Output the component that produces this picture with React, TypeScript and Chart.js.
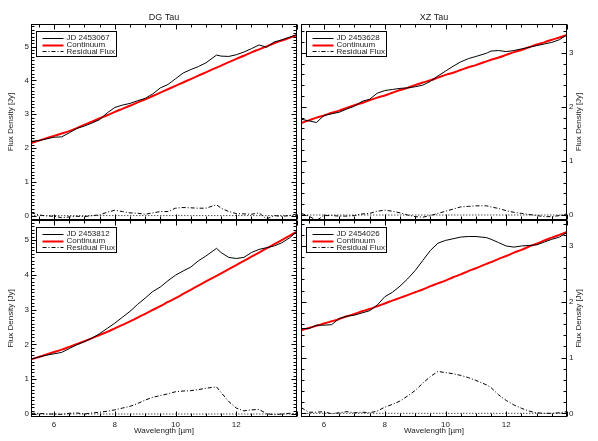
import React, { useEffect, useRef } from "react";
import { Chart, registerables } from "chart.js";
Chart.register(...registerables);

// ---------------- DATA ----------------
const WAVELENGTH = [5.25, 5.5, 5.75, 6.0, 6.25, 6.5, 6.75, 7.0, 7.25, 7.5, 7.75, 8.0, 8.25, 8.5, 8.75, 9.0, 9.25, 9.5, 9.75, 10.0, 10.25, 10.5, 10.75, 11.0, 11.35, 11.5, 11.75, 12.0, 12.25, 12.5, 12.75, 13.0, 13.25, 13.5, 13.75, 14.0];

const X_TICKS = [6, 8, 10, 12];
const DG_Y_TICKS = [0, 1, 2, 3, 4, 5];
const XZ_Y_TICKS = [0, 1, 2, 3];

const LEGEND_LABELS = ["Continuum", "Residual Flux"];
const PANEL_TITLES = ["DG Tau", "XZ Tau"];
const EPOCHS = ["JD 2453067", "JD 2453628", "JD 2453812", "JD 2454026"];

// DG Tau, JD 2453067
const DG1_OBS = [2.20, 2.22, 2.27, 2.32, 2.33, 2.45, 2.58, 2.65, 2.74, 2.84, 3.04, 3.20, 3.27, 3.32, 3.40, 3.47, 3.60, 3.78, 3.88, 4.05, 4.22, 4.32, 4.41, 4.52, 4.75, 4.72, 4.71, 4.76, 4.84, 4.94, 5.05, 4.98, 5.14, 5.20, 5.28, 5.36];
const DG1_CONT = [2.15, 2.22, 2.29, 2.36, 2.43, 2.50, 2.59, 2.69, 2.78, 2.88, 2.97, 3.07, 3.16, 3.25, 3.35, 3.44, 3.54, 3.64, 3.74, 3.84, 3.94, 4.04, 4.14, 4.24, 4.38, 4.44, 4.54, 4.64, 4.73, 4.83, 4.92, 5.01, 5.10, 5.18, 5.26, 5.34];
const DG1_RES = [0.08, 0.02, -0.01, -0.02, -0.06, -0.04, -0.02, -0.03, 0.00, 0.02, 0.10, 0.16, 0.12, 0.08, 0.07, 0.04, 0.08, 0.12, 0.12, 0.22, 0.24, 0.23, 0.22, 0.22, 0.32, 0.22, 0.12, 0.06, 0.05, 0.04, 0.08, -0.10, 0.00, -0.02, 0.00, 0.05];

// XZ Tau, JD 2453628
const XZ1_OBS = [1.77, 1.74, 1.71, 1.84, 1.87, 1.90, 1.96, 2.01, 2.10, 2.14, 2.25, 2.30, 2.32, 2.34, 2.35, 2.37, 2.40, 2.47, 2.57, 2.66, 2.75, 2.83, 2.89, 2.93, 2.99, 3.03, 3.04, 3.02, 3.04, 3.07, 3.10, 3.13, 3.16, 3.19, 3.24, 3.33];
const XZ1_CONT = [1.70, 1.75, 1.80, 1.84, 1.89, 1.93, 1.98, 2.03, 2.07, 2.12, 2.17, 2.21, 2.26, 2.31, 2.35, 2.40, 2.45, 2.49, 2.54, 2.59, 2.63, 2.68, 2.73, 2.77, 2.84, 2.87, 2.91, 2.96, 3.01, 3.05, 3.10, 3.15, 3.19, 3.24, 3.28, 3.33];
const XZ1_RES = [0.03, -0.02, -0.10, -0.01, -0.01, -0.02, -0.02, -0.01, 0.02, 0.03, 0.07, 0.09, 0.07, 0.04, 0.00, -0.03, -0.04, -0.01, 0.03, 0.07, 0.11, 0.15, 0.16, 0.17, 0.17, 0.15, 0.12, 0.08, 0.05, 0.03, 0.01, -0.01, -0.03, -0.03, -0.01, 0.02];

// DG Tau, JD 2453812
const DG2_OBS = [1.58, 1.64, 1.69, 1.73, 1.77, 1.88, 1.99, 2.08, 2.18, 2.31, 2.46, 2.61, 2.78, 2.95, 3.15, 3.33, 3.52, 3.65, 3.83, 3.99, 4.11, 4.22, 4.40, 4.54, 4.76, 4.64, 4.50, 4.47, 4.50, 4.64, 4.73, 4.78, 4.83, 4.92, 5.06, 5.24];
const DG2_CONT = [1.57, 1.64, 1.71, 1.78, 1.85, 1.93, 2.01, 2.09, 2.18, 2.27, 2.36, 2.46, 2.56, 2.66, 2.77, 2.88, 2.99, 3.10, 3.22, 3.33, 3.45, 3.57, 3.69, 3.81, 3.97, 4.04, 4.16, 4.28, 4.40, 4.52, 4.64, 4.76, 4.88, 5.00, 5.12, 5.24];
const DG2_RES = [0.02, 0.02, 0.00, 0.00, -0.01, 0.02, 0.03, 0.00, 0.03, 0.05, 0.08, 0.12, 0.17, 0.22, 0.30, 0.40, 0.48, 0.53, 0.58, 0.64, 0.66, 0.67, 0.70, 0.74, 0.78, 0.62, 0.36, 0.17, 0.09, 0.12, 0.13, 0.01, -0.02, 0.00, 0.02, 0.01];

// XZ Tau, JD 2454026
const XZ2_OBS = [1.52, 1.52, 1.58, 1.58, 1.59, 1.70, 1.74, 1.76, 1.80, 1.84, 1.94, 2.09, 2.17, 2.28, 2.41, 2.56, 2.74, 2.92, 3.05, 3.10, 3.13, 3.16, 3.17, 3.17, 3.15, 3.12, 3.06, 3.00, 2.98, 3.00, 3.01, 3.02, 3.07, 3.12, 3.16, 3.24];
const XZ2_CONT = [1.49, 1.53, 1.57, 1.61, 1.65, 1.69, 1.74, 1.78, 1.83, 1.87, 1.92, 1.97, 2.02, 2.07, 2.12, 2.17, 2.22, 2.28, 2.33, 2.38, 2.44, 2.49, 2.55, 2.60, 2.68, 2.71, 2.77, 2.82, 2.88, 2.93, 2.99, 3.04, 3.10, 3.15, 3.20, 3.25];
const XZ2_RES = [0.10, 0.02, 0.02, 0.03, -0.01, 0.01, 0.03, 0.01, 0.02, 0.01, 0.04, 0.11, 0.16, 0.22, 0.31, 0.41, 0.54, 0.66, 0.75, 0.73, 0.71, 0.68, 0.64, 0.59, 0.51, 0.46, 0.33, 0.23, 0.15, 0.09, 0.04, 0.01, 0.00, 0.00, 0.01, 0.03];

// ---------------- STYLE / LAYOUT ----------------
const FONT = "'Liberation Sans', 'DejaVu Sans', sans-serif";
const TEXT = "#222";
const X_MIN = 5.24;
const X_MAX = 14.0;

type Panel = {
  left: number; top: number; w: number; h: number;
  pad: { top: number; left: number; right: number; bottom: number };
  yPos: "left" | "right";
  xLabels: boolean;
  title: string | null;
  yMin: number; yMax: number; yTicks: number[]; yMinor: number;
  epoch: string;
  obs: number[]; cont: number[]; res: number[];
};

const PANELS: Panel[] = [
  { left: 0, top: 0, w: 299, h: 222, pad: { top: 24, left: 0, right: 2, bottom: 2 }, yPos: "left", xLabels: false, title: PANEL_TITLES[0], yMin: -0.13, yMax: 5.67, yTicks: DG_Y_TICKS, yMinor: 0.1, epoch: EPOCHS[0], obs: DG1_OBS, cont: DG1_CONT, res: DG1_RES },
  { left: 299, top: 0, w: 299, h: 222, pad: { top: 24, left: 2, right: 0, bottom: 2 }, yPos: "right", xLabels: false, title: PANEL_TITLES[1], yMin: -0.092, yMax: 3.53, yTicks: XZ_Y_TICKS, yMinor: 0.2, epoch: EPOCHS[1], obs: XZ1_OBS, cont: XZ1_CONT, res: XZ1_RES },
  { left: 0, top: 218, w: 299, h: 223, pad: { top: 2, left: 0, right: 2, bottom: 0 }, yPos: "left", xLabels: true, title: null, yMin: -0.086, yMax: 5.575, yTicks: DG_Y_TICKS, yMinor: 0.1, epoch: EPOCHS[2], obs: DG2_OBS, cont: DG2_CONT, res: DG2_RES },
  { left: 299, top: 218, w: 299, h: 223, pad: { top: 2, left: 2, right: 0, bottom: 0 }, yPos: "right", xLabels: true, title: null, yMin: -0.066, yMax: 3.466, yTicks: XZ_Y_TICKS, yMinor: 0.2, epoch: EPOCHS[3], obs: XZ2_OBS, cont: XZ2_CONT, res: XZ2_RES },
];

const decorPlugin = {
  id: "panelDecor",
  afterDraw(chart: any, _args: any, opts: any) {
    const { ctx, chartArea, scales } = chart;
    const { left, top, right, bottom } = chartArea;
    const x = scales.x;
    const y = scales.y;
    ctx.save();
    ctx.strokeStyle = "#000";
    ctx.lineWidth = 1;
    ctx.setLineDash([]);
    const L = Math.round(left) + 0.5;
    const R = Math.round(right) - 0.5;
    const T = Math.round(top) + 0.5;
    const B = Math.round(bottom) - 0.5;

    ctx.beginPath();
    for (let k = Math.ceil(x.min / 0.5); k * 0.5 <= x.max; k++) {
      const v = k * 0.5;
      const len = k % 4 === 0 ? 5 : 3;
      const px = Math.round(x.getPixelForValue(v)) + 0.5;
      ctx.moveTo(px, B); ctx.lineTo(px, B - len);
      ctx.moveTo(px, T); ctx.lineTo(px, T + len);
    }
    const step = opts.yMinor;
    const per = Math.round(1 / step);
    for (let k = Math.ceil(y.min / step); k * step <= y.max + 1e-9; k++) {
      const v = k * step;
      const len = k % per === 0 ? 5 : 3;
      const py = Math.round(y.getPixelForValue(v)) + 0.5;
      ctx.moveTo(L, py); ctx.lineTo(L + len, py);
      ctx.moveTo(R, py); ctx.lineTo(R - len, py);
    }
    ctx.stroke();
    ctx.strokeRect(L, T, R - L, B - T);

    ctx.fillStyle = TEXT;
    const cx = (left + right) / 2;
    if (opts.title) {
      ctx.font = `9px ${FONT}`;
      ctx.textAlign = "center";
      ctx.textBaseline = "middle";
      ctx.fillText(opts.title, cx, top - 6);
    }
    if (opts.xLabels) {
      ctx.font = `8px ${FONT}`;
      ctx.textAlign = "center";
      ctx.textBaseline = "middle";
      ctx.fillText("Wavelength [\u00b5m]", cx, bottom + 14);
    }
    ctx.save();
    const ty = opts.yPos === "left" ? left - 20 : right + 12;
    ctx.translate(ty, (top + bottom) / 2);
    ctx.rotate(-Math.PI / 2);
    ctx.font = `8px ${FONT}`;
    ctx.textAlign = "center";
    ctx.textBaseline = "middle";
    ctx.fillText("Flux Density [Jy]", 0, 0);
    ctx.restore();

    const bx = Math.round(left) + 5 + 0.5;
    const by = Math.round(top) + 7 + 0.5;
    const bw = 80;
    const bh = 25;
    ctx.fillStyle = "#fff";
    ctx.fillRect(bx, by, bw, bh);
    ctx.strokeStyle = "#000";
    ctx.lineWidth = 1;
    ctx.strokeRect(bx, by, bw, bh);
    const rows = [by + 6, by + 13, by + 19.5];
    const labels = [opts.epoch, LEGEND_LABELS[0], LEGEND_LABELS[1]];
    const styles = [
      { c: "#000", w: 1, d: [] as number[] },
      { c: "#ff0000", w: 2, d: [] as number[] },
      { c: "#000", w: 1, d: [4, 2, 1, 2] },
    ];
    rows.forEach((ry, i) => {
      ctx.beginPath();
      ctx.strokeStyle = styles[i].c;
      ctx.lineWidth = styles[i].w;
      ctx.setLineDash(styles[i].d);
      ctx.moveTo(bx + 6, Math.round(ry) + 0.5);
      ctx.lineTo(bx + 27, Math.round(ry) + 0.5);
      ctx.stroke();
      ctx.setLineDash([]);
      ctx.fillStyle = TEXT;
      ctx.font = `8px ${FONT}`;
      ctx.textAlign = "left";
      ctx.textBaseline = "middle";
      ctx.fillText(labels[i], bx + 30, ry + 0.5);
    });
    ctx.restore();
  },
};

function toPoints(vals: number[]) {
  return WAVELENGTH.map((w, i) => ({ x: w, y: vals[i] }));
}

function PanelChart({ p }: { p: Panel }) {
  const ref = useRef<HTMLCanvasElement>(null);
  useEffect(() => {
    const chart = new Chart(ref.current as HTMLCanvasElement, {
      type: "line",
      data: {
        datasets: [
          { label: p.epoch, data: toPoints(p.obs), borderColor: "#000", borderWidth: 1, pointRadius: 0, tension: 0, order: 0 },
          { label: "Continuum", data: toPoints(p.cont), borderColor: "#ff0000", borderWidth: 2, pointRadius: 0, tension: 0.3, order: 1 },
          { label: "Residual Flux", data: toPoints(p.res), borderColor: "#000", borderWidth: 1, borderDash: [4, 2, 1, 2], pointRadius: 0, tension: 0, order: 2 },
          { label: "zero", data: toPoints(WAVELENGTH.map(() => 0)), borderColor: "#000", borderWidth: 1, borderDash: [1, 2], pointRadius: 0, tension: 0, order: 3 },
        ],
      } as any,
      options: {
        responsive: false,
        animation: false,
        events: [],
        layout: { padding: p.pad },
        plugins: {
          legend: { display: false },
          tooltip: { enabled: false },
          title: { display: false },
          panelDecor: { title: p.title, xLabels: p.xLabels, yPos: p.yPos, yMinor: p.yMinor, epoch: p.epoch },
        } as any,
        scales: {
          x: {
            type: "linear",
            min: X_MIN,
            max: X_MAX,
            display: p.xLabels,
            position: "bottom",
            grid: { display: false, drawTicks: false },
            border: { display: false },
            ticks: { autoSkip: false, maxRotation: 0, padding: 3, color: TEXT, font: { family: FONT, size: 8 }, callback: (v: any) => String(v) },
            afterBuildTicks: (a: any) => { a.ticks = X_TICKS.map((v) => ({ value: v })); },
            afterFit: (a: any) => { a.height = p.xLabels ? 24 : 0; a.paddingLeft = 0; a.paddingRight = 0; a.paddingTop = 0; a.paddingBottom = 0; },
          },
          y: {
            type: "linear",
            min: p.yMin,
            max: p.yMax,
            position: p.yPos,
            grid: { display: false, drawTicks: false },
            border: { display: false },
            ticks: { padding: 2, color: TEXT, font: { family: FONT, size: 8 }, callback: (v: any) => String(v) },
            afterBuildTicks: (a: any) => { a.ticks = p.yTicks.map((v) => ({ value: v })); },
            afterFit: (a: any) => { a.width = 31; a.paddingTop = 0; a.paddingBottom = 0; a.paddingLeft = 0; a.paddingRight = 0; },
          },
        } as any,
      },
      plugins: [decorPlugin as any],
    });
    return () => chart.destroy();
  }, []);
  return (
    <canvas
      ref={ref}
      width={p.w}
      height={p.h}
      style={{ position: "absolute", left: p.left, top: p.top, width: p.w, height: p.h }}
    />
  );
}

export default function App() {
  return (
    <div style={{ position: "absolute", left: 0, top: 0, width: 598, height: 441, background: "#fff" }}>
      {PANELS.map((p, i) => (
        <PanelChart key={i} p={p} />
      ))}
    </div>
  );
}
